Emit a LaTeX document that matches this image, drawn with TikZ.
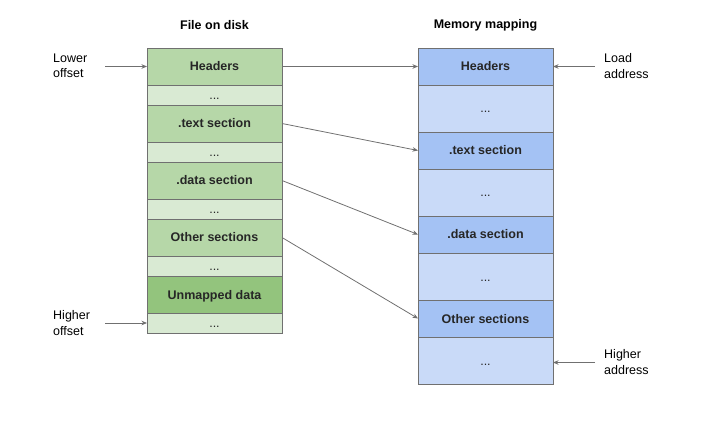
\documentclass[tikz,border=0pt]{standalone}
\usepackage{fontspec}
\setmainfont{Liberation Sans}
\usetikzlibrary{arrows.meta, positioning}

\definecolor{diskgreen}{HTML}{B6D7A8}
\definecolor{diskpale}{HTML}{D9EAD3}
\definecolor{diskdark}{HTML}{93C47D}
\definecolor{memblue}{HTML}{A4C2F4}
\definecolor{mempale}{HTML}{C9DAF8}
\definecolor{cellline}{HTML}{707070}
\definecolor{linkgray}{HTML}{707070}

\begin{document}
\begin{tikzpicture}[x=1pt, y=1pt, node distance=0pt,
    cell/.style={draw=cellline, line width=0.8pt, minimum width=135pt, outer sep=0pt, inner sep=0pt, text height=9pt, text depth=0pt, font=\bfseries\fontsize{12.5}{15}\selectfont, text=black!85},
    dsec/.style={cell, minimum height=37pt, fill=diskgreen},
    dgap/.style={cell, minimum height=20pt, fill=diskpale, font=\fontsize{12.5}{15}\selectfont},
    msec/.style={cell, minimum height=37pt, fill=memblue},
    mgap/.style={cell, minimum height=47pt, fill=mempale, font=\fontsize{12.5}{15}\selectfont},
    title/.style={font=\bfseries\fontsize{12.5}{15}\selectfont},
    side/.style={font=\fontsize{12.5}{15.5}\selectfont, align=left, anchor=west, inner sep=0pt},
    link/.style={draw=linkgray, line width=0.8pt, arrows={-Stealth[length=5.5pt, width=4.5pt]}}]
    \useasboundingbox (0,0) rectangle (701,-446);

    % Titles
    \node[title] (disktitle) at (214.5,-25) {File on disk};
    \node[title] (memtitle) at (485.5,-25) {Memory mapping};

    % File on disk
    \node[dsec] (dhdr) at (214.5,-66.5) {Headers};
    \node[dgap, below=of dhdr] (ddot1) {...};
    \node[dsec, below=of ddot1] (dtext) {.text section};
    \node[dgap, below=of dtext] (ddot2) {...};
    \node[dsec, below=of ddot2] (ddata) {.data section};
    \node[dgap, below=of ddata] (ddot3) {...};
    \node[dsec, below=of ddot3] (dother) {Other sections};
    \node[dgap, below=of dother] (ddot4) {...};
    \node[dsec, fill=diskdark, below=of ddot4] (dunmap) {Unmapped data};
    \node[dgap, below=of dunmap] (ddot5) {...};

    % Memory mapping
    \node[msec] (mhdr) at (485.5,-66.5) {Headers};
    \node[mgap, below=of mhdr] (mdot1) {...};
    \node[msec, below=of mdot1] (mtext) {.text section};
    \node[mgap, below=of mtext] (mdot2) {...};
    \node[msec, below=of mdot2] (mdata) {.data section};
    \node[mgap, below=of mdata] (mdot3) {...};
    \node[msec, below=of mdot3] (mother) {Other sections};
    \node[mgap, below=of mother] (mdot4) {...};

    % Side labels
    \node[side] (lowoff) at (53,-66) {Lower\\offset};
    \node[side] (highoff) at (53,-323) {Higher\\offset};
    \node[side] (loadaddr) at (604,-66) {Load\\address};
    \node[side] (highaddr) at (604,-362) {Higher\\address};
    \coordinate (lowstart) at (105,-66.5);
    \coordinate (highstart) at (105,-323);
    \coordinate (loadstart) at (595,-66.5);
    \coordinate (addrstart) at (595,-362.5);

    % Connections
    \draw[link] (lowstart) -- (lowstart -| dhdr.west);
    \draw[link] (highstart) -- (highstart -| ddot5.west);
    \draw[link] (loadstart) -- (loadstart -| mhdr.east);
    \draw[link] (addrstart) -- (addrstart -| mdot4.east);
    \draw[link] (dhdr.east) -- (mhdr.west);
    \draw[link] (dtext.east) -- (mtext.west);
    \draw[link] (ddata.east) -- (mdata.west);
    \draw[link] (dother.east) -- (mother.west);
\end{tikzpicture}
\end{document}
